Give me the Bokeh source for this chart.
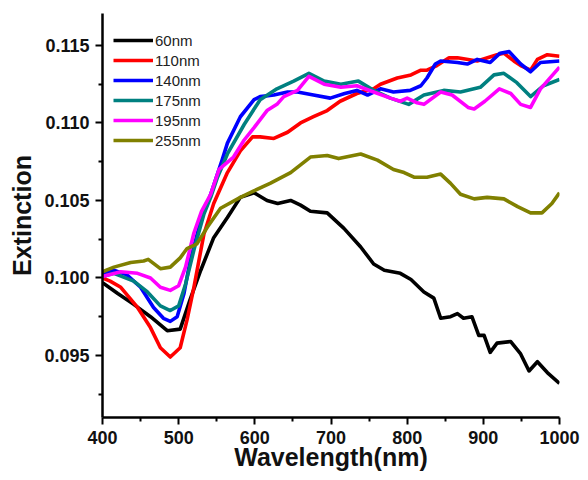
from bokeh.plotting import figure
from bokeh.models import Range1d, FixedTicker, NumeralTickFormatter, Legend, LegendItem
from bokeh.embed import file_html
from bokeh.resources import INLINE

# ---- data ----
x_60 = [400, 420, 441, 463, 485, 502, 515, 529, 546, 564, 581, 599, 616, 630, 647, 660, 673, 695, 717,
        739, 756, 770, 791, 805, 822, 835, 844, 857, 866, 874, 885, 894, 901, 909, 918, 936, 949, 960,
        971, 984, 1000]
y_60 = [0.0997, 0.0990, 0.0983, 0.0975, 0.0966, 0.0967, 0.0986, 0.1005, 0.1026, 0.1039, 0.1052, 0.1055,
        0.1050, 0.1048, 0.1050, 0.1047, 0.1043, 0.1042, 0.1032, 0.1020, 0.1009, 0.1005, 0.1003, 0.0999,
        0.0991, 0.0987, 0.0974, 0.0975, 0.0977, 0.0974, 0.0975, 0.0963, 0.0963, 0.0952, 0.0958, 0.0959,
        0.0951, 0.0940, 0.0946, 0.0939, 0.0932]

x_110 = [400, 410, 424, 446, 463, 476, 489, 502, 511, 520, 533, 546, 564, 581, 597, 607, 625, 643, 660,
         677, 695, 712, 734, 756, 765, 787, 805, 818, 826, 839, 855, 866, 892, 918, 927, 940, 949, 962,
         971, 984, 1000]
y_110 = [0.1000, 0.0998, 0.0994, 0.0981, 0.0968, 0.0955, 0.0949, 0.0955, 0.0973, 0.0994, 0.1028, 0.1048,
         0.1068, 0.1082, 0.1091, 0.1091, 0.1090, 0.1094, 0.1100, 0.1104, 0.1108, 0.1114, 0.1119, 0.1122,
         0.1125, 0.1129, 0.1131, 0.1134, 0.1134, 0.1137, 0.1142, 0.1142, 0.1140, 0.1144, 0.1145, 0.1140,
         0.1137, 0.1134, 0.1141, 0.1144, 0.1143]

x_140 = [400, 415, 432, 450, 467, 480, 489, 498, 507, 515, 529, 542, 557, 564, 581, 599, 607, 625, 643,
         656, 677, 699, 718, 734, 748, 765, 782, 804, 818, 826, 837, 844, 866, 879, 892, 909, 922, 934,
         949, 962, 975, 1000]
y_140 = [0.1002, 0.1005, 0.1002, 0.0994, 0.0981, 0.0974, 0.0972, 0.0975, 0.0990, 0.1011, 0.1037, 0.1054,
         0.1076, 0.1087, 0.1104, 0.1115, 0.1117, 0.1118, 0.1120, 0.1120, 0.1118, 0.1116, 0.1119, 0.1121,
         0.1118, 0.1122, 0.1120, 0.1121, 0.1124, 0.1129, 0.1138, 0.1140, 0.1139, 0.1138, 0.1141, 0.1139,
         0.1145, 0.1146, 0.1138, 0.1133, 0.1139, 0.1140]

x_175 = [400, 415, 441, 459, 476, 489, 500, 509, 520, 533, 542, 551, 564, 586, 607, 629, 651, 671, 691,
         713, 736, 756, 778, 802, 822, 848, 870, 896, 914, 927, 944, 962, 979, 1000]
y_175 = [0.1001, 0.1003, 0.0998, 0.0991, 0.0982, 0.0979, 0.0982, 0.0996, 0.1018, 0.1041, 0.1052, 0.1065,
         0.1080, 0.1099, 0.1115, 0.1122, 0.1127, 0.1132, 0.1127, 0.1125, 0.1127, 0.1121, 0.1116, 0.1112,
         0.1118, 0.1121, 0.1120, 0.1123, 0.1131, 0.1132, 0.1126, 0.1117, 0.1124, 0.1128]

x_195 = [400, 424, 446, 463, 476, 489, 500, 509, 520, 530, 542, 553, 572, 586, 599, 616, 629, 638, 656,
         671, 691, 713, 734, 756, 778, 791, 800, 813, 822, 844, 859, 880, 888, 902, 921, 936, 949, 962,
         975, 1000]
y_195 = [0.1001, 0.1004, 0.1003, 0.1000, 0.0994, 0.0992, 0.0995, 0.1007, 0.1029, 0.1043, 0.1054, 0.1070,
         0.1078, 0.1089, 0.1097, 0.1108, 0.1112, 0.1117, 0.1121, 0.1130, 0.1125, 0.1123, 0.1124, 0.1120,
         0.1116, 0.1114, 0.1116, 0.1113, 0.1112, 0.1120, 0.1118, 0.1110, 0.1109, 0.1114, 0.1122, 0.1119,
         0.1112, 0.1110, 0.1122, 0.1136]

x_255 = [400, 415, 437, 454, 460, 476, 489, 502, 511, 524, 538, 555, 581, 598, 620, 647, 660, 673, 695,
         710, 739, 761, 782, 796, 809, 826, 844, 857, 870, 888, 905, 927, 945, 962, 977, 990, 1000]
y_255 = [0.1004, 0.1007, 0.1010, 0.1011, 0.1012, 0.1006, 0.1007, 0.1013, 0.1019, 0.1022, 0.1033, 0.1045,
         0.1052, 0.1056, 0.1061, 0.1068, 0.1073, 0.1078, 0.1079, 0.1077, 0.1080, 0.1076, 0.1070, 0.1068,
         0.1065, 0.1065, 0.1067, 0.1061, 0.1054, 0.1051, 0.1052, 0.1051, 0.1046, 0.1042, 0.1042, 0.1048,
         0.1055]

labels = ["60nm", "110nm", "140nm", "175nm", "195nm", "255nm"]
colors = ["#000000", "#ff0000", "#0000ff", "#008080", "#ff00ff", "#808000"]
series = [(x_60, y_60), (x_110, y_110), (x_140, y_140), (x_175, y_175), (x_195, y_195), (x_255, y_255)]

x_ticks = [400, 500, 600, 700, 800, 900, 1000]
x_minor = [450, 550, 650, 750, 850, 950]
y_ticks = [0.095, 0.100, 0.105, 0.110, 0.115]
y_minor = [0.0925, 0.0975, 0.1025, 0.1075, 0.1125]

FONT = "Liberation Sans"

p = figure(width=588, height=480, output_backend="svg", toolbar_location=None,
           x_range=Range1d(400, 1000), y_range=Range1d(0.091, 0.11706),
           min_border_left=102, min_border_right=29, min_border_top=13, min_border_bottom=63)
p.xgrid.visible = False
p.ygrid.visible = False
p.outline_line_color = None
p.background_fill_color = "white"

items = []
for (xs, ys), lab, col in zip(series, labels, colors):
    r = p.line(xs, ys, line_color=col, line_width=3.6, line_join="round")
    items.append(LegendItem(label=lab, renderers=[r]))

legend = Legend(items=items, location=(11, 267), border_line_color=None,
                background_fill_alpha=0, padding=0, margin=0, spacing=0,
                glyph_width=40, glyph_height=20, label_height=20, label_standoff=2,
                label_text_font=FONT, label_text_font_size="15px", label_text_color="#222222")
p.add_layout(legend)

for ax in (p.xaxis, p.yaxis):
    ax.axis_line_width = 2.5
    ax.axis_line_color = "black"
    ax.major_tick_in = 0
    ax.major_tick_out = 7
    ax.minor_tick_in = 0
    ax.minor_tick_out = 4
    ax.major_tick_line_width = 2
    ax.minor_tick_line_width = 2
    ax.major_label_text_font = FONT
    ax.major_label_text_font_style = "bold"
    ax.major_label_text_font_size = "18px"
    ax.major_label_text_color = "#111111"
    ax.axis_label_text_font = FONT
    ax.axis_label_text_font_style = "bold"
    ax.axis_label_text_font_size = "25px"
    ax.axis_label_text_color = "#111111"

p.xaxis.ticker = FixedTicker(ticks=x_ticks, minor_ticks=x_minor)
p.yaxis.ticker = FixedTicker(ticks=y_ticks, minor_ticks=y_minor)
p.yaxis.formatter = NumeralTickFormatter(format="0.000")
p.xaxis.major_label_standoff = 6
p.yaxis.major_label_standoff = 6
p.xaxis.axis_label = "Wavelength(nm)"
p.yaxis.axis_label = "Extinction"
p.xaxis.axis_label_standoff = -4
p.yaxis.axis_label_standoff = 5

open("out.html", "w").write(file_html(p, INLINE))
